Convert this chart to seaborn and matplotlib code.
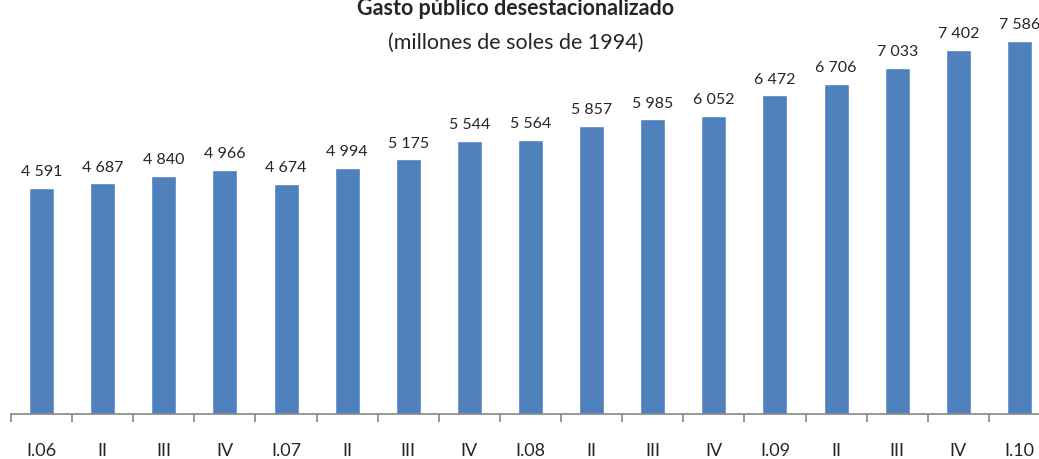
import numpy as np
import pandas as pd
import matplotlib
matplotlib.use('Agg')
import matplotlib.pyplot as plt
import seaborn as sns

# data
quarters = ['I.06', 'II', 'III', 'IV', 'I.07', 'II', 'III', 'IV', 'I.08',
            'II', 'III', 'IV', 'I.09', 'II', 'III', 'IV', 'I.10']
gasto = [4591, 4687, 4840, 4966, 4674, 4994, 5175, 5544, 5564,
         5857, 5985, 6052, 6472, 6706, 7033, 7402, 7586]

df = pd.DataFrame({'pos': range(len(quarters)), 'gasto': gasto})

sns.set_style('white')
plt.rcParams['font.family'] = ['Lato', 'DejaVu Sans']

fig = plt.figure(figsize=(10.39, 4.6), dpi=100)
ax = fig.add_axes([11 / 1039, 45 / 460, 1039 / 1039, 415 / 460])

sns.barplot(data=df, x='pos', y='gasto', color='#4F81BD', saturation=1,
            width=0.41, ax=ax)

labels = [f'{v:,}'.replace(',', ' ') for v in gasto]
ax.bar_label(ax.containers[0], labels=labels, padding=7, fontsize=11.5)

ax.set_xlim(-0.5, len(quarters) - 0.5)
ax.set_ylim(0, 8430)
ax.set_xlabel('')
ax.set_ylabel('')
ax.set_yticks([])
ax.set_xticks(range(len(quarters)))
ax.set_xticklabels(quarters, fontsize=13)
ax.set_xticks(np.arange(-0.5, len(quarters), 1), minor=True)
ax.tick_params(axis='x', which='major', bottom=True, length=0, pad=20)
ax.tick_params(axis='x', which='minor', bottom=True, length=6,
               color='#868686', width=1.2, direction='out')

for side in ['top', 'right', 'left']:
    ax.spines[side].set_visible(False)
ax.spines['bottom'].set_color('#868686')
ax.spines['bottom'].set_linewidth(1.2)

fig.text(0.496, 1 - 15 / 460, 'Gasto público desestacionalizado',
         ha='center', va='baseline', fontsize=15.5, fontweight='bold')
fig.text(0.496, 1 - 49 / 460, '(millones de soles de 1994)',
         ha='center', va='baseline', fontsize=15.5)

fig.savefig('out.png', dpi=100)
